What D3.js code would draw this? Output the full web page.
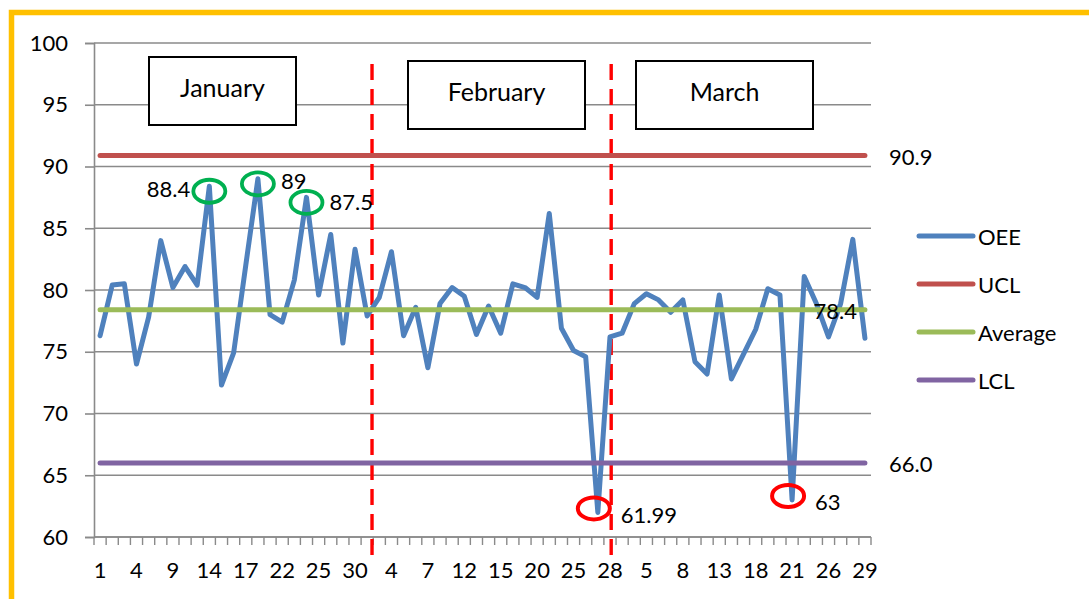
<!DOCTYPE html>
<html>
<head>
<meta charset="utf-8">
<script src="https://cdn.jsdelivr.net/npm/d3@7"></script>
<style>
  html, body { margin: 0; padding: 0; background: #fff; }
  svg { display: block; font-family: Lato, "Open Sans", sans-serif; }
</style>
</head>
<body>
<svg id="chart" width="1089" height="599"></svg>
<script>
// Working days of Q1 2013 (day of month for each category)
const days = [
  1, 2, 3, 4, 7, 8, 9, 10, 11, 14, 15, 16, 17, 18, 21, 22, 23, 24, 25, 28, 29, 30, 31,
  1, 4, 5, 6, 7, 8, 11, 12, 13, 14, 15, 18, 19, 20, 21, 22, 25, 26, 27, 28,
  1, 4, 5, 6, 7, 8, 11, 12, 13, 14, 15, 18, 19, 20, 21, 22, 25, 26, 27, 28, 29
];

// Daily OEE (%)
const oee = [
  76.3, 80.4, 80.5, 74.0, 77.8, 84.0, 80.2, 81.9, 80.4, 88.4,
  72.3, 74.9, 82.0, 89, 78.0, 77.4, 80.8, 87.5, 79.6, 84.5,
  75.7, 83.3, 77.9, 79.4, 83.1, 76.3, 78.6, 73.7, 78.9, 80.2,
  79.5, 76.4, 78.7, 76.5, 80.5, 80.2, 79.4, 86.2, 76.9, 75.1,
  74.6, 61.99, 76.2, 76.5, 78.9, 79.7, 79.2, 78.2, 79.2, 74.2,
  73.2, 79.6, 72.8, 74.8, 76.8, 80.1, 79.6, 63, 81.1, 78.9,
  76.2, 78.9, 84.1, 76.1
];

// Control limits
const limitNames = ["UCL", "Average", "LCL"];
const limitValues = [90.9, 78.4, 66.0];

const seriesNames = ["OEE", "UCL", "Average", "LCL"];
const seriesColors = ["#4F81BD", "#C0504D", "#9BBB59", "#8064A2"];

const yTicks = [60, 65, 70, 75, 80, 85, 90, 95, 100];
const months = ["January", "February", "March"];

// Month separators, in category units
const monthBreaks = [22.9, 42.6];

// Points flagged above / below
const highPoints = [9, 13, 17];
const lowPoints = [41, 57];

const svg = d3.select("#chart");
svg.append("rect").attr("width", 1089).attr("height", 599).attr("fill", "#fff");

// frame
svg.append("path")
  .attr("d", "M11.5,599 V12.5 H1089")
  .attr("fill", "none").attr("stroke", "#FFC000").attr("stroke-width", 5.5);

const plotL = 94, plotR = 871, plotT = 43, plotB = 537;
const x = d3.scaleBand().domain(d3.range(days.length)).range([plotL, plotR]).padding(0);
const bw = x.bandwidth();
const cx = i => x(i) + bw / 2;
const xAt = v => plotL + v * bw;
const y = d3.scaleLinear().domain([60, 100]).range([plotB, plotT]);

// gridlines
svg.append("g").selectAll("line").data(yTicks).join("line")
  .attr("x1", plotL).attr("x2", plotR)
  .attr("y1", d => y(d)).attr("y2", d => y(d))
  .attr("stroke", "#8a8a8a").attr("stroke-width", 1.6);

// y axis
const yAxis = svg.append("g").attr("transform", `translate(${plotL},0)`)
  .call(d3.axisLeft(y).tickValues(yTicks).tickSize(9).tickPadding(17));
yAxis.select(".domain").attr("stroke", "#8a8a8a").attr("stroke-width", 1.6);
yAxis.selectAll(".tick line").attr("stroke", "#8a8a8a").attr("stroke-width", 1.6);
yAxis.selectAll(".tick text").attr("font-size", 22).attr("font-family", "Lato").attr("fill", "#000");

// x axis: boundary ticks + labels every 3rd day
const xg = svg.append("g");
xg.append("line").attr("x1", plotL).attr("x2", plotR).attr("y1", plotB).attr("y2", plotB)
  .attr("stroke", "#8a8a8a").attr("stroke-width", 1.6);
xg.selectAll("line.tk").data(d3.range(days.length + 1)).join("line").attr("class", "tk")
  .attr("x1", d => xAt(d)).attr("x2", d => xAt(d))
  .attr("y1", plotB).attr("y2", plotB + 8)
  .attr("stroke", "#8a8a8a").attr("stroke-width", 1.4);
const xAxis = svg.append("g").attr("transform", `translate(0,${plotB})`)
  .call(d3.axisBottom(x).tickValues(d3.range(0, days.length, 3)).tickSize(0).tickPadding(25)
    .tickFormat(i => days[i]));
xAxis.select(".domain").remove();
xAxis.selectAll(".tick text").attr("font-size", 22).attr("font-family", "Lato").attr("fill", "#000");

// month boxes
const boxes = [
  { x0: 149, x1: 296, y0: 57, y1: 125 },
  { x0: 408, x1: 585, y0: 61, y1: 129 },
  { x0: 636, x1: 813, y0: 61, y1: 129 }
];
const mb = svg.append("g").selectAll("g").data(months).join("g");
mb.append("rect")
  .attr("x", (d, i) => boxes[i].x0).attr("y", (d, i) => boxes[i].y0)
  .attr("width", (d, i) => boxes[i].x1 - boxes[i].x0)
  .attr("height", (d, i) => boxes[i].y1 - boxes[i].y0)
  .attr("fill", "#fff").attr("stroke", "#000").attr("stroke-width", 2);
mb.append("text")
  .attr("x", (d, i) => (boxes[i].x0 + boxes[i].x1) / 2)
  .attr("y", (d, i) => (boxes[i].y0 + boxes[i].y1) / 2 - 4)
  .attr("text-anchor", "middle").attr("dominant-baseline", "central")
  .attr("font-size", 25).attr("fill", "#000").text(d => d);

// month separators
svg.append("g").selectAll("line").data(monthBreaks).join("line")
  .attr("x1", d => xAt(d)).attr("x2", d => xAt(d))
  .attr("y1", 64).attr("y2", 557)
  .attr("stroke", "#FF0000").attr("stroke-width", 3.4)
  .attr("stroke-dasharray", "16,9");

// series
const line = d3.line().x((d, i) => cx(i)).y(d => y(d));
svg.append("path").datum(oee).attr("d", line)
  .attr("fill", "none").attr("stroke", seriesColors[0]).attr("stroke-width", 5)
  .attr("stroke-linejoin", "round").attr("stroke-linecap", "round");

limitValues.forEach((v, k) => {
  svg.append("path").datum(days.map(() => v)).attr("d", line)
    .attr("fill", "none").attr("stroke", seriesColors[k + 1]).attr("stroke-width", 5)
    .attr("stroke-linecap", "round");
});

// limit labels
const lastX = cx(days.length - 1);
limitValues.forEach((v, k) => {
  const isAvg = limitNames[k] === "Average";
  svg.append("text")
    .attr("x", isAvg ? lastX - 8 : lastX + 24)
    .attr("y", y(v) + 1)
    .attr("text-anchor", isAvg ? "end" : "start")
    .attr("dominant-baseline", "central")
    .attr("font-size", 22).attr("fill", "#000")
    .text(v.toFixed(1));
});

// highlighted points
const hl = svg.append("g");
highPoints.forEach((i, k) => {
  hl.append("ellipse").attr("cx", cx(i)).attr("cy", y(oee[i]) + 5)
    .attr("rx", 16).attr("ry", 11.5)
    .attr("fill", "none").attr("stroke", "#00B050").attr("stroke-width", 3.8);
  hl.append("text")
    .attr("x", k === 0 ? cx(i) - 19 : cx(i) + 23)
    .attr("y", y(oee[i]) + (k === 2 ? 4 : 2))
    .attr("text-anchor", k === 0 ? "end" : "start")
    .attr("dominant-baseline", "central")
    .attr("font-size", 22).attr("fill", "#000").text(String(oee[i]));
});
lowPoints.forEach(i => {
  hl.append("ellipse").attr("cx", cx(i) - 4).attr("cy", y(oee[i]) - 4)
    .attr("rx", 16).attr("ry", 11)
    .attr("fill", "none").attr("stroke", "#FF0000").attr("stroke-width", 4);
  hl.append("text")
    .attr("x", cx(i) + 23).attr("y", y(oee[i]) + 2)
    .attr("dominant-baseline", "central")
    .attr("font-size", 22).attr("fill", "#000").text(String(oee[i]));
});

// legend
const lg = svg.append("g").selectAll("g").data(seriesNames).join("g")
  .attr("transform", (d, i) => `translate(919,${236 + i * 48})`);
lg.append("line").attr("x1", 0).attr("x2", 54)
  .attr("stroke", (d, i) => seriesColors[i]).attr("stroke-width", 5).attr("stroke-linecap", "round");
lg.append("text").attr("x", 59).attr("dominant-baseline", "central")
  .attr("font-size", 22).attr("fill", "#000").text(d => d);
</script>
</body>
</html>
